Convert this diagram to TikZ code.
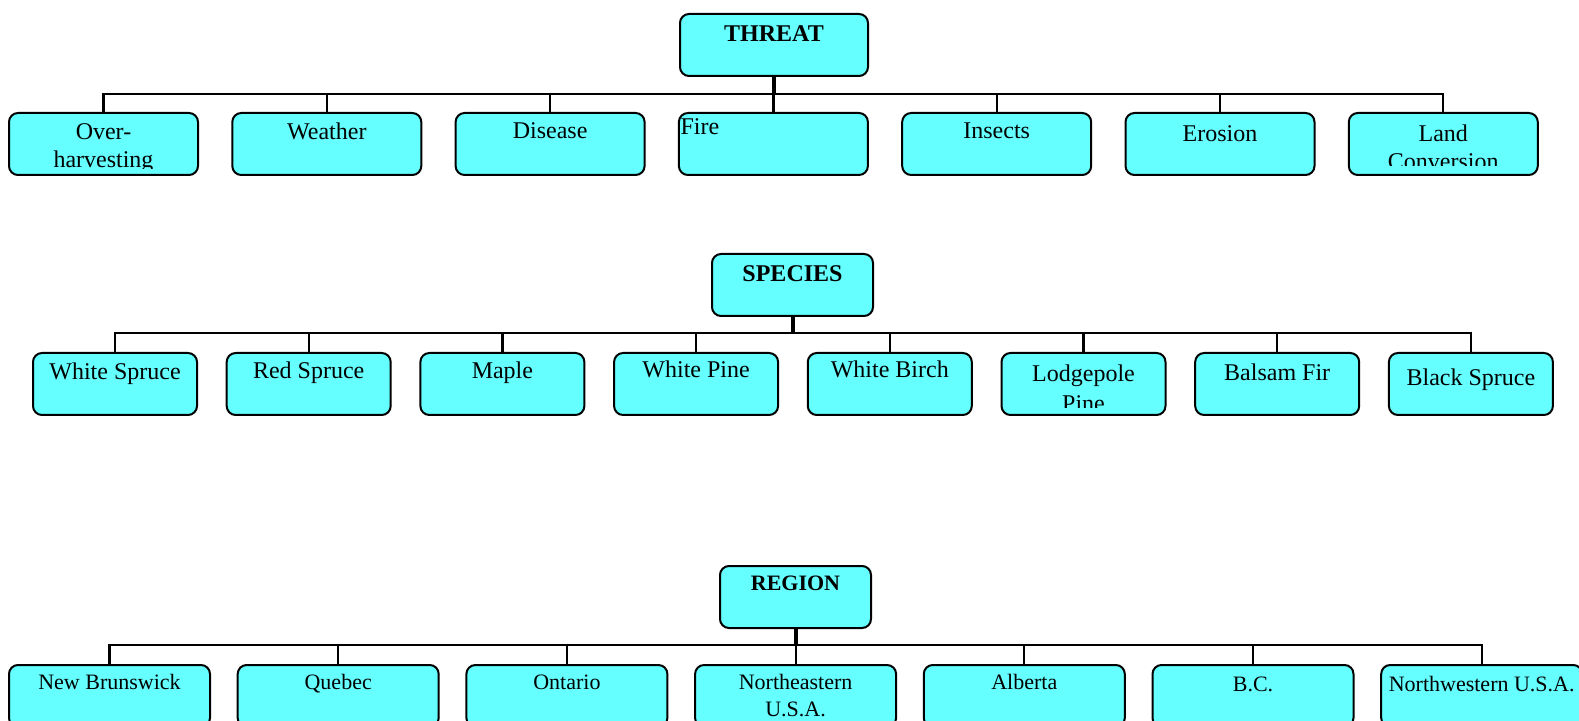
\documentclass[tikz,border=0pt]{standalone}
\usepackage{fontspec}
\setmainfont{Liberation Serif}
\usepackage{xcolor}
\usetikzlibrary{positioning}
\definecolor{boxcyan}{RGB}{102,255,255}
\tikzset{
  box/.style   = {draw, line width=1pt, rounded corners=4.5pt, fill=boxcyan,
                  inner sep=0pt, outer sep=0pt, minimum height=31pt},
  head/.style  = {box, font=\bfseries\fontsize{12}{14}\selectfont},
  leafT/.style = {box, minimum width=94.5pt, font=\fontsize{12}{14}\selectfont},
  leafS/.style = {box, minimum width=82pt, font=\fontsize{12}{14}\selectfont},
  leafR/.style = {box, minimum width=100.5pt, font=\fontsize{11}{13.5}\selectfont},
  % text hangs from the top edge (base = last line), cut off near the bottom edge
  lbl/.style n args={3}{path picture={
      \clip ([yshift=#3]path picture bounding box.south west)
            rectangle (path picture bounding box.north east);
      \path (path picture bounding box.north) ++(#2)
            node[anchor=base, align=center, inner sep=0pt] {#1};}},
  link/.style  = {line width=1.1pt},
  stem/.style  = {line width=2pt}
}

\begin{document}
\begin{tikzpicture}[x=0.5pt, y=-0.5pt]
  \useasboundingbox (0,0) rectangle (1579,721);
  \clip (0,0) rectangle (1579,721);

  % threat
  \node[head, minimum width=94pt, lbl={THREAT}{0,28}{3pt}] (threat) at (774,45) {};
  \begin{scope}[node distance=17.15pt]
    \node[leafT, lbl={Over-\\harvesting}{0,55}{3pt}] (ov) at (103.5,144) {};
    \node[leafT, right=of ov, lbl={Weather}{0,27}{3pt}] (we) {};
    \node[leafT, right=of we, lbl={Disease}{0,26}{3pt}] (di) {};
    \node[leafT, right=of di, lbl={Fire}{-73.5,22}{3pt}] (fi) {};
    \node[leafT, right=of fi, lbl={Insects}{0,26}{3pt}] (in) {};
    \node[leafT, right=of in, lbl={Erosion}{0,29}{3pt}] (er) {};
    \node[leafT, right=of er, lbl={Land\\Conversion}{0,57}{4.5pt}] (la) {};
  \end{scope}
  \foreach \c in {ov,we,di,fi,in,er,la}
    \draw[link] (threat.south) -- ++(0,18) -| (\c.north);
  \draw[stem] (threat.south) -- ++(0,18);

  % species
  \node[head, minimum width=80.5pt, lbl={SPECIES}{0,28}{3pt}] (species) at (792.5,285) {};
  \begin{scope}[node distance=14.85pt]
    \node[leafS, lbl={White Spruce}{0,27}{3pt}] (ws) at (115,384) {};
    \node[leafS, right=of ws, lbl={Red Spruce}{0,26}{3pt}] (rs) {};
    \node[leafS, right=of rs, lbl={Maple}{0,26}{3pt}] (ma) {};
    \node[leafS, right=of ma, lbl={White Pine}{0,25}{3pt}] (wp) {};
    \node[leafS, right=of wp, lbl={White Birch}{0,25}{3pt}] (wb) {};
    \node[leafS, right=of wb, lbl={Lodgepole\\[1pt]Pine}{0,59}{3.5pt}] (lp) {};
    \node[leafS, right=of lp, lbl={Balsam Fir}{0,28}{3pt}] (bf) {};
    \node[leafS, right=of bf, lbl={Black Spruce}{0,33}{3pt}] (bs) {};
  \end{scope}
  \foreach \c in {ws,rs,ma,wp,wb,lp,bf,bs}
    \draw[link] (species.south) -- ++(0,17) -| (\c.north);
  \draw[stem] (species.south) -- ++(0,17);

  % region
  \node[head, minimum width=75.5pt, font=\bfseries\fontsize{11}{12}\selectfont,
        lbl={REGION}{0,24}{3pt}] (region) at (795.5,597) {};
  \begin{scope}[node distance=13.85pt]
    \node[leafR, lbl={New Brunswick}{0,24}{3pt}] (nb) at (109.5,696) {};
    \node[leafR, right=of nb, lbl={Quebec}{0,24}{3pt}] (qu) {};
    \node[leafR, right=of qu, lbl={Ontario}{0,24}{3pt}] (on) {};
    \node[leafR, right=of on, lbl={Northeastern\\U.S.A.}{0,51}{3pt}] (ne) {};
    \node[leafR, right=of ne, lbl={Alberta}{0,24}{3pt}] (al) {};
    \node[leafR, right=of al, lbl={B.C.}{0,26}{3pt}] (bc) {};
    \node[leafR, right=of bc, lbl={Northwestern U.S.A.}{0,26}{3pt}] (nw) {};
  \end{scope}
  \foreach \c in {nb,qu,on,ne,al,bc,nw}
    \draw[link] (region.south) -- ++(0,17) -| (\c.north);
  \draw[stem] (region.south) -- ++(0,17);
\end{tikzpicture}
\end{document}
